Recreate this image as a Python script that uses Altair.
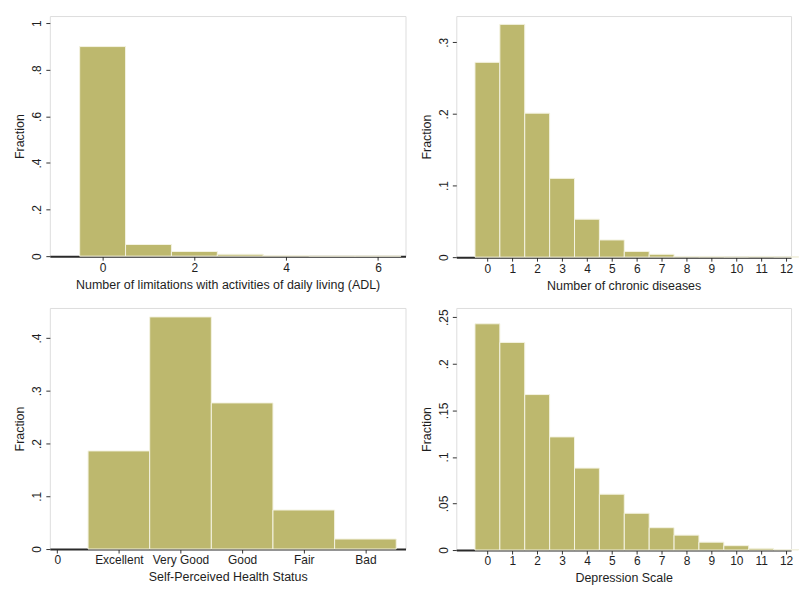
import altair as alt
import pandas as pd

# ---- data ----
adl_values = [0, 1, 2, 3, 4, 5, 6]
adl_fraction = [0.900, 0.050, 0.020, 0.008, 0.003, 0.001, 0.001]

chronic_values = list(range(13))
chronic_fraction = [0.272, 0.325, 0.201, 0.110, 0.053, 0.024, 0.008,
                    0.004, 0.001, 0.001, 0.0005, 0.001, 0.0005]

health_labels = ["Excellent", "Very Good", "Good", "Fair", "Bad"]
health_codes = [1, 2, 3, 4, 5]
health_fraction = [0.186, 0.440, 0.277, 0.074, 0.019]

depression_values = list(range(13))
depression_fraction = [0.243, 0.223, 0.167, 0.1215, 0.088, 0.060, 0.0395,
                       0.024, 0.016, 0.0085, 0.0047, 0.0018, 0.0005]

BAR = "#bdb86e"
FONT = "Liberation Sans"
TXT = "#1e1e1e"

strip0 = "datum.value == 0 ? '0' : (datum.value < 1 ? slice(format(datum.value, '~g'), 1) : format(datum.value, '~g'))"


def panel(values, fracs, xtitle, xdomain, xticks, ydomain, yticks, width, height, xlabelexpr=None):
    df = pd.DataFrame({
        "v": values,
        "x0": [v - 0.5 for v in values],
        "x1": [v + 0.5 for v in values],
        "frac": fracs,
    })
    xaxis_kw = dict(
        title=xtitle, values=xticks, grid=False, domainColor="#2a2a2a", domainWidth=2,
        tickColor="#333", tickSize=4, labelPadding=2, titlePadding=5,
        labelFont=FONT, labelFontSize=12, labelColor=TXT,
        titleFont=FONT, titleFontSize=12.5, titleFontWeight="normal", titleColor=TXT,
        labelFlush=False, labelOverlap=False,
    )
    if xlabelexpr:
        xaxis_kw["labelExpr"] = xlabelexpr
    else:
        xaxis_kw["format"] = "d"
    yaxis = alt.Axis(
        title="Fraction", values=yticks, grid=False, domain=False,
        tickColor="#333", tickSize=4, labelPadding=2, labelAngle=270,
        labelBaseline="bottom", labelAlign="center",
        labelExpr=strip0, labelFont=FONT, labelFontSize=12, labelColor=TXT,
        titleFont=FONT, titleFontSize=12.5, titleFontWeight="normal", titleColor=TXT,
        titlePadding=4, labelFlush=False,
    )
    return alt.Chart(df).mark_rect(color=BAR, stroke="#f4f3e2", strokeWidth=1).encode(
        x=alt.X("x0:Q", scale=alt.Scale(domain=xdomain, nice=False, zero=False),
                axis=alt.Axis(**xaxis_kw)),
        x2="x1:Q",
        y=alt.Y("frac:Q", scale=alt.Scale(domain=ydomain, nice=False), axis=yaxis),
        y2=alt.datum(0),
    ).properties(width=width, height=height)


health_label_list = ["0"] + health_labels
health_expr = "[" + ",".join("'" + s + "'" for s in health_label_list) + "][datum.value]"

p1 = panel(adl_values, adl_fraction,
           "Number of limitations with activities of daily living (ADL)",
           [-1.15, 6.6], [0, 2, 4, 6], [0, 1.031], [0, 0.2, 0.4, 0.6, 0.8, 1],
           357, 241)
p2 = panel(chronic_values, chronic_fraction, "Number of chronic diseases",
           [-1.25, 12.2], list(range(13)), [0, 0.3366], [0, 0.1, 0.2, 0.3],
           336, 242)
p3 = panel(health_codes, health_fraction, "Self-Perceived Health Status",
           [-0.12, 5.65], [0, 1, 2, 3, 4, 5], [0, 0.457], [0, 0.1, 0.2, 0.3, 0.4],
           357, 242, xlabelexpr=health_expr)
p4 = panel(depression_values, depression_fraction, "Depression Scale",
           [-1.25, 12.2], list(range(13)), [0, 0.26], [0, 0.05, 0.1, 0.15, 0.2, 0.25],
           336, 243)

chart = alt.vconcat(
    alt.hconcat(p1, p2, spacing=13),
    alt.hconcat(p3, p4, spacing=13),
    spacing=15,
).properties(
    padding={"left": 5, "top": 6, "right": 0, "bottom": 0}
).configure_view(
    stroke="#7d7d7d", strokeWidth=1.2
).configure(background="white")

chart.save("out.html", embed_options={"renderer": "svg", "actions": False})
